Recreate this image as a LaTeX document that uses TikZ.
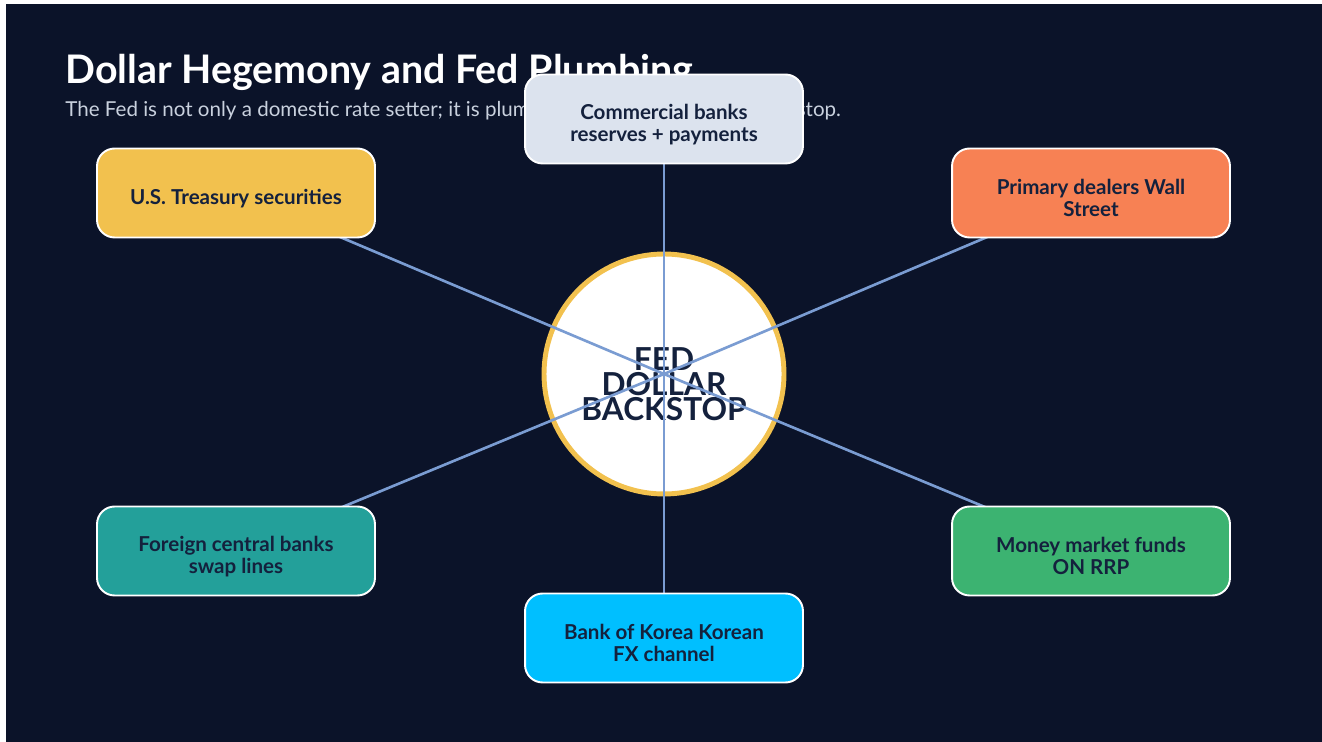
\documentclass[tikz,border=0pt]{standalone}
\usepackage{fontspec}
\setmainfont{Lato}
\usepackage{tikz}
\usetikzlibrary{positioning}

\definecolor{navy}{HTML}{0B1329}
\definecolor{inkdark}{HTML}{14213D}
\definecolor{subgray}{HTML}{C9D1DE}
\definecolor{spokeblue}{HTML}{7A9CD2}
\definecolor{fedgold}{HTML}{F2C14E}
\definecolor{cbgray}{HTML}{DCE3EE}
\definecolor{pdorange}{HTML}{F78154}
\definecolor{cbteal}{HTML}{23A09A}
\definecolor{mmgreen}{HTML}{3CB371}
\definecolor{bokcyan}{HTML}{00BFFF}

\begin{document}
\begin{tikzpicture}[x=0.02cm, y=-0.02cm]
        \tikzset{
            player/.style={
                    draw=white, line width=1.1pt, rounded corners=10pt,
                    minimum width=5.56cm, minimum height=1.78cm
                },
            player text/.style={
                    align=center, text=inkdark, yshift=-3pt,
                    font=\fontsize{11.7}{12.7}\selectfont\bfseries
                },
            hub/.style={
                    circle, draw=fedgold, line width=2.8pt, fill=white,
                    minimum size=4.8cm
                },
            spoke/.style={
                    draw=spokeblue, line width=1.5pt
                }
        }

        % page and background
        \useasboundingbox (0,0) rectangle (1322,742);
        \fill[navy] (6,4) rectangle (1322,742);

        \node[anchor=base west, inner sep=0pt, text=white, font=\fontsize{22.4}{26}\selectfont\bfseries] (title) at (65,84) {Dollar Hegemony and Fed Plumbing};
        \node[anchor=base west, inner sep=0pt, text=subgray, font=\fontsize{11.7}{14}\selectfont] (subtitle) at (65,117) {The Fed is not only a domestic rate setter; it is plumbing for the global dollar backstop.};

        % the backstop in the middle
        \node[hub] (fed) at (664,374) {};
        \node[align=center, text=inkdark, font=\fontsize{18}{14.2}\selectfont\bfseries] (fedtext) at (664,384) {FED\\DOLLAR\\BACKSTOP};

        % counterparties
        \coordinate (cb) at (664,119);
        \coordinate (ust) at (236,193);
        \coordinate (pd) at (1091,193);
        \coordinate (fcb) at (236,551);
        \coordinate (mmf) at (1091,551);
        \coordinate (bok) at (664,638);

        \foreach \p in {cb, ust, pd, fcb, mmf, bok}
            \draw[spoke] (fed.center) -- (\p);

        \node[player, fill=cbgray, label={[player text]center:{Commercial banks\\reserves + payments}}] (cbank) at (cb) {};
        \node[player, fill=fedgold, label={[player text]center:{U.S. Treasury securities}}] (treasury) at (ust) {};
        \node[player, fill=pdorange, label={[player text]center:{Primary dealers Wall\\Street}}] (dealers) at (pd) {};
        \node[player, fill=cbteal, label={[player text]center:{Foreign central banks\\swap lines}}] (swaps) at (fcb) {};
        \node[player, fill=mmgreen, label={[player text]center:{Money market funds\\ON RRP}}] (mmfunds) at (mmf) {};
        \node[player, fill=bokcyan, label={[player text]center:{Bank of Korea Korean\\FX channel}}] (korea) at (bok) {};
    \end{tikzpicture}
\end{document}
